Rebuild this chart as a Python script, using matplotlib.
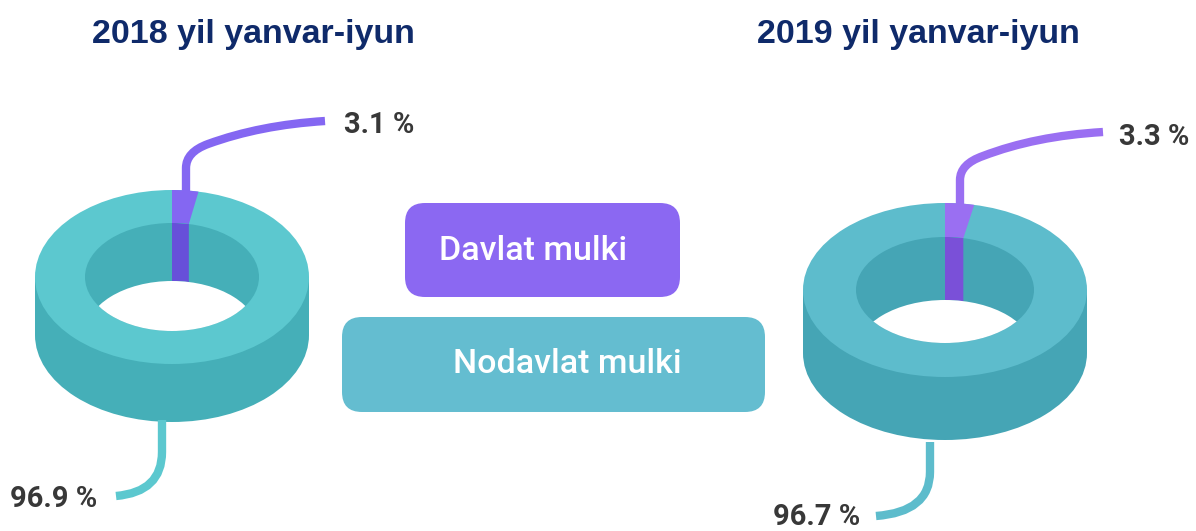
import numpy as np
import matplotlib
matplotlib.use("Agg")
from matplotlib import pyplot as plt
from matplotlib.patches import Ellipse, Polygon, Rectangle, FancyBboxPatch, PathPatch
from matplotlib.path import Path

# data
titles = ["2018 yil yanvar-iyun", "2019 yil yanvar-iyun"]
categories = ["Davlat mulki", "Nodavlat mulki"]
share_state = [3.1, 3.3]
share_private = [96.9, 96.7]

W, H = 1196, 531
fig = plt.figure(figsize=(W / 100, H / 100), dpi=100)
ax = fig.add_axes([0, 0, 1, 1])
ax.set_xlim(0, W)
ax.set_ylim(H, 0)
ax.axis("off")

TXT = "#383838"
NAVY = "#0f2a6a"


def donut(cx, cy, rx, ry, irx, iry, depth, pct, top, side, purple, dpurple):
    # outer wall
    ax.add_patch(Ellipse((cx, cy + depth), 2 * rx, 2 * ry, color=side, lw=0))
    ax.add_patch(Rectangle((cx - rx, cy), 2 * rx, depth, color=side, lw=0))
    # top face
    ax.add_patch(Ellipse((cx, cy), 2 * rx, 2 * ry, color=top, lw=0))
    # slice on top face, starting at 12 o'clock, clockwise
    t = np.radians(np.linspace(90 - 360 * pct / 100, 90, 30))
    outer = np.c_[cx + rx * np.cos(t), cy - ry * np.sin(t)]
    inner = np.c_[cx + irx * np.cos(t), cy - iry * np.sin(t)][::-1]
    ax.add_patch(Polygon(np.r_[outer, inner], color=purple, lw=0))
    # inner wall
    hole = Ellipse((cx, cy), 2 * irx, 2 * iry, color=side, lw=0)
    ax.add_patch(hole)
    a = np.c_[cx + irx * np.cos(t), cy - iry * np.sin(t)]
    b = np.c_[cx + irx * np.cos(t), cy + depth - iry * np.sin(t)][::-1]
    strip = Polygon(np.r_[a, b], color=dpurple, lw=0)
    ax.add_patch(strip)
    strip.set_clip_path(hole)
    white = Ellipse((cx, cy + depth), 2 * irx, 2 * iry, color="white", lw=0)
    ax.add_patch(white)
    white.set_clip_path(hole)


def leader(pts, color):
    codes = [Path.MOVETO, Path.LINETO] + [Path.CURVE3] * (len(pts) - 2)
    ax.add_patch(PathPatch(Path(pts, codes), fc="none", ec=color, lw=6,
                           capstyle="butt", joinstyle="round"))


# 2018
donut(172, 277, 137, 87, 87, 54, 58, share_state[0],
      "#5cc8cf", "#45afb8", "#8467f2", "#6750d9")
leader([(186, 196), (186, 168), (186, 152), (208, 144), (260, 125), (325, 121)], "#8467f2")
leader([(162, 420), (162, 452), (162, 492), (116, 496)], "#5cc8cf")

# 2019
donut(945, 290, 142, 87, 89, 53, 63, share_state[1],
      "#5dbccc", "#45a5b5", "#9a6ff2", "#7a50d8")
leader([(960, 208), (960, 180), (960, 164), (983, 156), (1035, 136), (1103, 132)], "#9a6ff2")
leader([(930, 442), (930, 472), (930, 512), (876, 516)], "#5dbccc")

# percentage labels
lab = dict(fontsize=21, color=TXT, family="Roboto", weight="bold", va="center")
ax.text(344, 125, f"{share_state[0]} %", ha="left", **lab)
ax.text(10, 499, f"{share_private[0]} %", ha="left", **lab)
ax.text(1119, 137, f"{share_state[1]} %", ha="left", **lab)
ax.text(773, 517, f"{share_private[1]} %", ha="left", **lab)

# titles
tt = dict(fontsize=24.5, color=NAVY, family="Liberation Sans", weight="bold",
          ha="center", va="center")
ax.text(253, 34, titles[0], **tt)
ax.text(918, 34, titles[1], **tt)

# legend boxes
ax.add_patch(FancyBboxPatch((405, 203), 275, 94, boxstyle="round,pad=0,rounding_size=20",
                            fc="#8b68f2", ec="none"))
ax.add_patch(FancyBboxPatch((342, 317), 423, 95, boxstyle="round,pad=0,rounding_size=20",
                            fc="#64bdd0", ec="none"))
lt = dict(fontsize=24.5, color="white", family="Roboto", weight="medium",
          ha="center", va="center")
ax.text(533, 251, categories[0], **lt)
ax.text(567, 364, categories[1], **lt)

fig.savefig("out.png", dpi=100)
